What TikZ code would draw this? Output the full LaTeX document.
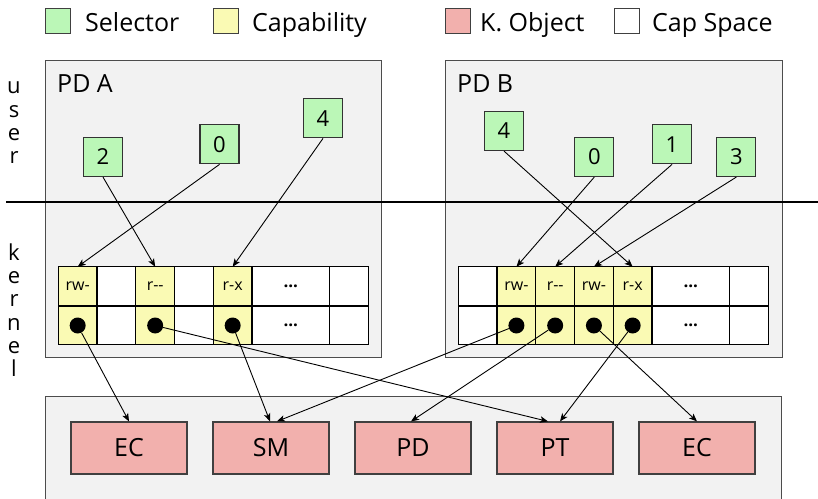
\documentclass[tikz,border=0pt]{standalone}
\usepackage{fontspec}
\setmainfont{Open Sans}
\usetikzlibrary{arrows.meta}
\definecolor{selg}{RGB}{187,247,183}
\definecolor{capy}{RGB}{250,250,180}
\definecolor{kobj}{RGB}{242,176,173}
\definecolor{pdbg}{RGB}{242,242,242}
\begin{document}
\begin{tikzpicture}[x=1pt,y=-1pt,
  box/.style={draw=black!70, line width=1.2pt, fill=pdbg, inner sep=0pt, anchor=north west},
  cell/.style={draw=black, line width=1.2pt, minimum width=38.75pt, minimum height=38.75pt, inner sep=0pt, outer sep=0pt, font=\fontsize{16}{18}\selectfont},
  dcell/.style={cell, minimum width=77.5pt, font=\fontsize{17}{18}\selectfont\bfseries},
  sel/.style={draw=black!80, line width=1.2pt, fill=selg, minimum width=39pt, minimum height=39pt, inner sep=0pt, font=\fontsize{22}{24}\selectfont},
  kob/.style={draw=black!75, line width=1.2pt, fill=kobj, minimum width=116pt, minimum height=52pt, inner sep=0pt, font=\fontsize{25}{28}\selectfont},
  leg/.style={draw=black!75, line width=1pt, minimum width=25pt, minimum height=25pt, inner sep=0pt},
  lbl/.style={inner sep=0pt, anchor=base west, font=\fontsize{25}{28}\selectfont},
  vlbl/.style={inner sep=0pt, align=center, font=\fontsize{22}{23.3}\selectfont},
  dot/.style={circle, fill=black, minimum size=16pt, inner sep=0pt},
  arr/.style={-{Stealth[length=8pt,width=6.5pt,inset=2pt]}, line width=0.9pt},
]
\useasboundingbox (0,0) rectangle (818,498);

% legend
\node[leg, fill=selg] (lg1) at (58,20.5) {};
\node[lbl] (lt1) at (85,31) {Selector};
\node[leg, fill=capy] (lg2) at (225.5,20.5) {};
\node[lbl] (lt2) at (252,31) {Capability};
\node[leg, fill=kobj] (lg3) at (458,20.5) {};
\node[lbl] (lt3) at (480,31) {K. Object};
\node[leg, fill=white] (lg4) at (627,20.5) {};
\node[lbl] (lt4) at (652,31) {Cap Space};

% boxes
\node[box, minimum width=336pt, minimum height=297pt] (pdA) at (45,60) {};
\node[box, minimum width=337pt, minimum height=297pt] (pdB) at (445,60) {};
\node[box, minimum width=736pt, minimum height=130pt] (kern) at (45,396) {};
\node[lbl] (pdAl) at (57,92.7) {PD A};
\node[lbl] (pdBl) at (457,92.7) {PD B};

% side labels
\node[vlbl] (usr) at (14,123) {u\\s\\e\\r};
\node[vlbl] (krn) at (14,310) {k\\e\\r\\n\\e\\l};

% cap table A
\foreach \i/\f/\t in {0/capy/rw-,1/white/{},2/capy/r-{}-,3/white/{},4/capy/r-x} {
  \node[cell, fill=\f] (At\i) at ({58.3+(\i+0.5)*38.75}, 286.1) {\t};
  \node[cell, fill=\f] (Ab\i) at ({58.3+(\i+0.5)*38.75}, 325.5) {};
}
\node[dcell, fill=white] (At5) at (290.8,286.1) {...};
\node[dcell, fill=white] (Ab5) at (290.8,325.5) {...};
\node[cell, fill=white] (At6) at (348.9,286.1) {};
\node[cell, fill=white] (Ab6) at (348.9,325.5) {};
\foreach \i in {0,2,4} \node[dot] (Ad\i) at (Ab\i) {};

% cap table B
\foreach \i/\f/\t in {0/white/{},1/capy/rw-,2/capy/r-{}-,3/capy/rw-,4/capy/r-x} {
  \node[cell, fill=\f] (Bt\i) at ({458.3+(\i+0.5)*38.75}, 286.1) {\t};
  \node[cell, fill=\f] (Bb\i) at ({458.3+(\i+0.5)*38.75}, 325.5) {};
}
\node[dcell, fill=white] (Bt5) at (690.8,286.1) {...};
\node[dcell, fill=white] (Bb5) at (690.8,325.5) {...};
\node[cell, fill=white] (Bt6) at (748.9,286.1) {};
\node[cell, fill=white] (Bb6) at (748.9,325.5) {};
\foreach \i in {1,2,3,4} \node[dot] (Bd\i) at (Bb\i) {};

% selectors
\node[sel] (sA2) at (103,157) {2};
\node[sel] (sA0) at (219.5,144.3) {0};
\node[sel] (sA4) at (323,118.3) {4};
\node[sel] (sB4) at (504,131) {4};
\node[sel] (sB0) at (594.3,157) {0};
\node[sel] (sB1) at (672,144.3) {1};
\node[sel] (sB3) at (736.3,157) {3};

% kernel objects
\node[kob] (kEC1) at (129,448) {EC};
\node[kob] (kSM) at (271,448) {SM};
\node[kob] (kPD) at (413,448) {PD};
\node[kob] (kPT) at (555,448) {PT};
\node[kob] (kEC2) at (697,448) {EC};

% separator
\coordinate (sepL) at (6,202);
\coordinate (sepR) at (818,202);
\draw[line width=2.6pt] (sepL) -- (sepR);

% selector arrows
\draw[arr] (sA0.south) -- (At0.north);
\draw[arr] (sA2.south) -- (At2.north);
\draw[arr] (sA4.south) -- (At4.north);
\draw[arr] (sB0.south) -- (Bt1.north);
\draw[arr] (sB1.south) -- (Bt2.north);
\draw[arr] (sB3.south) -- (Bt3.north);
\draw[arr] (sB4.south) -- (Bt4.north);

% object arrows
\draw[arr] (Ad0) -- (kEC1.north);
\draw[arr] (Ad2) -- ([xshift=-7pt]kPT.north);
\draw[arr] (Ad4) -- ([xshift=-1pt]kSM.north);
\draw[arr] (Bd1) -- ([xshift=6pt]kSM.north);
\draw[arr] (Bd2) -- ([xshift=-2pt]kPD.north);
\draw[arr] (Bd3) -- (kEC2.north);
\draw[arr] (Bd4) -- ([xshift=5pt]kPT.north);
\end{tikzpicture}
\end{document}
